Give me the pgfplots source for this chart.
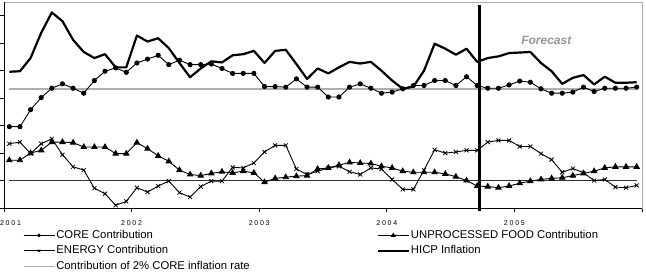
\documentclass[border=0pt]{standalone}
\usepackage{pgfplots}
\pgfplotsset{compat=1.18}
\usepackage{pgfplotstable}
\usepackage{fontspec}
\setmainfont{Liberation Sans}
\newfontfamily\tickfont[LetterSpace=25]{Liberation Sans}
\definecolor{refgray}{RGB}{175,175,175}
\definecolor{fcgray}{RGB}{150,150,150}

\pgfplotstableread{
x core food energy hicp
0.5 0.98 0.37 0.67 1.98
1.5 0.98 0.37 0.70 1.99
2.5 1.29 0.50 0.49 2.23
3.5 1.51 0.55 0.67 2.69
4.5 1.68 0.70 0.76 3.06
5.5 1.76 0.70 0.47 2.90
6.5 1.68 0.69 0.25 2.56
7.5 1.59 0.61 0.19 2.34
8.5 1.82 0.61 -0.14 2.23
9.5 1.99 0.61 -0.24 2.30
10.5 2.05 0.49 -0.45 2.06
11.5 1.97 0.49 -0.38 2.06
12.5 2.14 0.69 -0.13 2.64
13.5 2.21 0.58 -0.21 2.53
14.5 2.28 0.45 -0.10 2.59
15.5 2.11 0.35 -0.01 2.41
16.5 2.19 0.19 -0.22 2.14
17.5 2.11 0.11 -0.30 1.88
18.5 2.11 0.09 -0.11 2.04
19.5 2.12 0.13 -0.01 2.17
20.5 2.04 0.16 -0.01 2.15
21.5 1.95 0.14 0.24 2.28
22.5 1.95 0.17 0.23 2.30
23.5 1.95 0.14 0.32 2.36
24.5 1.71 -0.03 0.52 2.14
25.5 1.71 0.04 0.64 2.36
26.5 1.70 0.06 0.64 2.38
27.5 1.85 0.08 0.21 2.12
28.5 1.70 0.09 0.11 1.85
29.5 1.70 0.21 0.17 2.04
30.5 1.52 0.23 0.23 1.95
31.5 1.52 0.28 0.26 2.06
32.5 1.70 0.33 0.16 2.16
33.5 1.76 0.32 0.11 2.13
34.5 1.68 0.31 0.23 2.16
35.5 1.59 0.26 0.21 2.00
36.5 1.61 0.23 0.02 1.82
37.5 1.67 0.17 -0.16 1.67
38.5 1.73 0.15 -0.16 1.71
39.5 1.73 0.15 0.19 2.00
40.5 1.82 0.15 0.56 2.49
41.5 1.82 0.12 0.50 2.40
42.5 1.73 0.07 0.52 2.29
43.5 1.89 0.00 0.55 2.40
44.5 1.73 -0.10 0.55 2.16
45.5 1.68 -0.11 0.70 2.23
46.5 1.68 -0.13 0.73 2.26
47.5 1.74 -0.10 0.73 2.32
48.5 1.81 -0.05 0.62 2.33
49.5 1.79 -0.01 0.62 2.34
50.5 1.67 0.02 0.49 2.14
51.5 1.59 0.04 0.38 1.99
52.5 1.59 0.05 0.15 1.76
53.5 1.61 0.09 0.22 1.87
54.5 1.70 0.13 0.14 1.92
55.5 1.62 0.17 0.00 1.75
56.5 1.68 0.23 0.02 1.89
57.5 1.68 0.25 -0.12 1.78
58.5 1.68 0.25 -0.13 1.78
59.5 1.70 0.25 -0.09 1.79
}\datatable

\begin{document}
\begin{tikzpicture}
\useasboundingbox (0,0) rectangle (646pt,271pt);
\begin{axis}[
  at={(4pt,63pt)}, anchor=south west,
  scale only axis, width=638pt, height=206pt,
  xmin=0, xmax=60, ymin=-0.5, ymax=3.25,
  xtick={0,12,24,36,48,60},
  xticklabels={\hspace*{13pt}2001,2002,2003,2004,2005,},
  ytick={-0.5,0,0.5,1,1.5,2,2.5,3},
  yticklabels={},
  xtick pos=bottom, ytick pos=left,
  tick align=outside, major tick length=4pt,
  tick style={black, line width=0.7pt},
  xticklabel style={font=\tickfont\fontsize{7}{8}\selectfont, yshift=-5pt},
  axis line style={refgray, line width=0.8pt},
  clip=false,
  legend columns=2,
  legend cell align=left,
  legend style={
    at={(axis description cs:0.029,-0.103)}, anchor=north west,
    draw=none, fill=none, inner sep=0pt,
    font=\fontsize{11.3}{13}\selectfont,
    nodes={inner sep=1pt, text height=8pt, text depth=2pt},
    /tikz/column 2/.style={column sep=126pt},
    row sep=3.5pt,
  },
  legend image code/.code={\draw[mark repeat=2, mark phase=2, #1, every mark/.append style={scale=0.65}] plot coordinates {(0pt,0pt) (15.5pt,0pt) (31pt,0pt)};},
  after end axis/.code={
    \draw[black, line width=0.8pt] (rel axis cs:0,1) -- (rel axis cs:0,0) -- (rel axis cs:1,0);
  },
]
% reference lines
\addplot[refgray, line width=1.6pt, forget plot] coordinates {(0.5,1.67) (59.5,1.67)};
\addplot[black!80, line width=0.8pt, forget plot] coordinates {(0.5,0) (59.5,0)};

\addplot[black, line width=0.9pt, mark=*, mark size=2.1pt] table[x=x, y=core] {\datatable};
\addlegendentry{CORE Contribution}
\addplot[black, line width=0.9pt, mark=triangle*, mark size=3pt] table[x=x, y=food] {\datatable};
\addlegendentry{UNPROCESSED FOOD Contribution}
\addplot[black, line width=0.9pt, mark=x, mark size=2.8pt, mark options={line width=0.8pt}] table[x=x, y=energy] {\datatable};
\addlegendentry{ENERGY Contribution}
\addplot[black, line width=2.2pt, line join=round] table[x=x, y=hicp] {\datatable};
\addlegendentry{HICP Inflation}
\addlegendimage{refgray, line width=1.6pt}
\addlegendentry{Contribution of 2\% CORE inflation rate}

% forecast divider
\addplot[black, line width=3pt, forget plot] coordinates {(44.75,-0.55) (44.75,3.2)};
\node[fcgray, font=\fontsize{12}{14}\selectfont\bfseries\itshape] at (axis cs:51.0,2.55) {Forecast};
\end{axis}
\end{tikzpicture}
\end{document}
